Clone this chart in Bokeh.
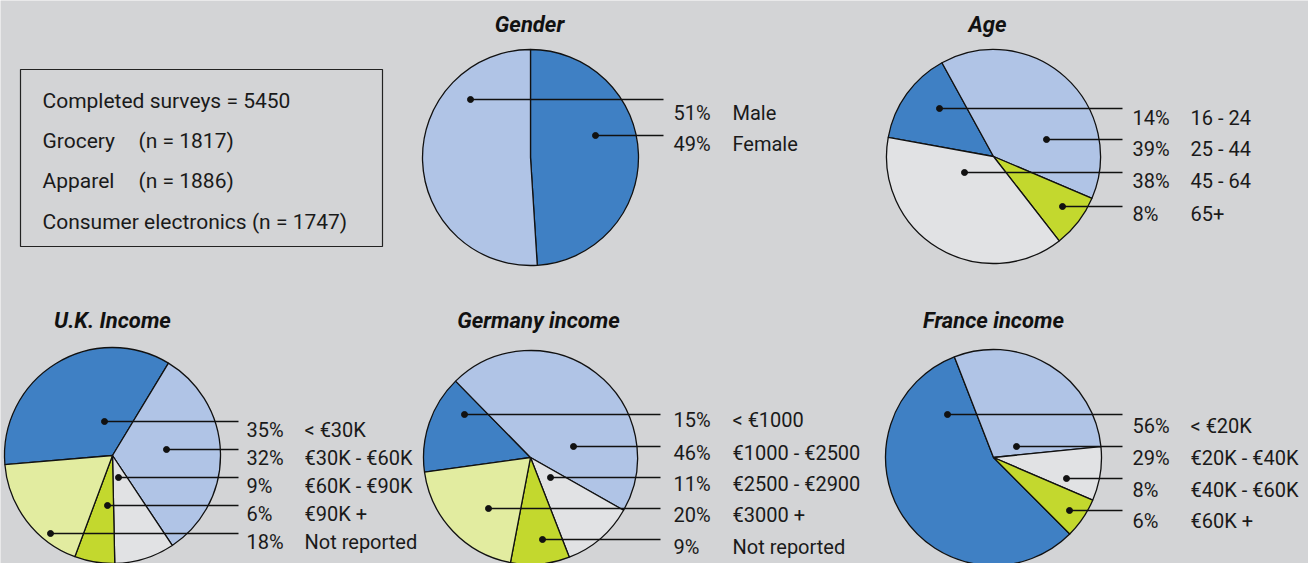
import math
from bokeh.plotting import figure
from bokeh.models import Range1d
from bokeh.embed import file_html
from bokeh.resources import INLINE
from bokeh.core.properties import value

# ---------------- data ----------------
summary_lines = ["Completed surveys = 5450", "Grocery", "Apparel", "Consumer electronics (n = 1747)"]
summary_counts = ["", "(n = 1817)", "(n = 1886)", ""]

gender_labels = ["Male", "Female"]
gender_values = [51, 49]

age_labels = ["16 - 24", "25 - 44", "45 - 64", "65+"]
age_values = [14, 39, 38, 8]

uk_labels = ["< €30K", "€30K - €60K", "€60K - €90K", "€90K +", "Not reported"]
uk_values = [35, 32, 9, 6, 18]

de_labels = ["< €1000", "€1000 - €2500", "€2500 - €2900", "€3000 +", "Not reported"]
de_values = [15, 46, 11, 20, 9]

fr_labels = ["< €20K", "€20K - €40K", "€40K - €60K", "€60K +"]
fr_values = [56, 29, 8, 6]

# ---------------- style ----------------
BG = "#d3d4d6"
DARK = "#3f80c4"
LIGHT = "#b0c4e6"
GREY = "#e1e2e4"
LIME = "#c3d82e"
PALE = "#e2eca0"
FONT = "Roboto"

W, H = 1308, 563

# layout for each pie (reference pixel coordinates, y downwards)
pies = [
    dict(title="Gender", labels=gender_labels, values=gender_values,
         colors=[LIGHT, DARK], order=[1, 0], start=0.0,
         cx=530, cy=157, r=108, tx=529, ty=24,
         line_y=[99, 135], dot_x=[470, 595], text_y=[112, 143],
         end_x=663, pct_x=673, lab_x=732),
    dict(title="Age", labels=age_labels, values=age_values,
         colors=[DARK, LIGHT, GREY, LIME], order=[0, 1, 3, 2], start=280.3,
         cx=993, cy=156, r=107, tx=987, ty=24,
         line_y=[108, 139, 172, 206], dot_x=[939, 1046, 964, 1062], text_y=[117, 148, 180, 213],
         end_x=1122, pct_x=1132, lab_x=1190),
    dict(title="U.K. Income", labels=uk_labels, values=uk_values,
         colors=[DARK, LIGHT, GREY, LIME, PALE], order=[0, 1, 2, 3, 4], start=265.2,
         cx=112, cy=455, r=108, tx=112, ty=320,
         line_y=[421, 449, 477, 505, 533], dot_x=[104, 166, 118, 107, 50],
         text_y=[429, 457, 485, 513, 541],
         end_x=238, pct_x=246, lab_x=304),
    dict(title="Germany income", labels=de_labels, values=de_values,
         colors=[DARK, LIGHT, GREY, PALE, LIME], order=[0, 1, 2, 4, 3], start=262.1,
         cx=530, cy=457, r=107, tx=538, ty=320,
         line_y=[414, 446, 477, 508, 539], dot_x=[464, 573, 550, 488, 542],
         text_y=[419, 452, 483, 514, 546],
         end_x=660, pct_x=673, lab_x=732),
    dict(title="France income", labels=fr_labels, values=fr_values,
         colors=[DARK, LIGHT, GREY, LIME], order=[0, 1, 2, 3], start=135.1,
         cx=993, cy=457, r=108, tx=993, ty=320,
         line_y=[414, 446, 478, 510], dot_x=[947, 1016, 1066, 1069],
         text_y=[425, 457, 489, 520],
         end_x=1122, pct_x=1132, lab_x=1190),
]


def Y(y):
    return H - y


p = figure(width=W, height=H, output_backend="svg", toolbar_location=None,
           x_range=Range1d(0, W), y_range=Range1d(0, H),
           min_border=0, min_border_left=0, min_border_right=0, min_border_top=0, min_border_bottom=0)
p.background_fill_color = BG
p.border_fill_color = BG
p.outline_line_color = None
p.xaxis.visible = False
p.yaxis.visible = False
p.xgrid.visible = False
p.ygrid.visible = False

# summary box
p.quad(left=20, right=382, top=Y(69), bottom=Y(246), fill_color=None, line_color="#222222", line_width=1.2)
box_y = [100, 140, 180, 221]
p.text(x=[42] * 4, y=[Y(b) for b in box_y], text=summary_lines,
       text_font=value(FONT), text_font_size="21px", text_color="#1a1a1a", text_baseline="middle")
p.text(x=[138] * 4, y=[Y(b) for b in box_y], text=summary_counts,
       text_font=value(FONT), text_font_size="21px", text_color="#1a1a1a", text_baseline="middle")

for pie in pies:
    vals = pie["values"]
    total = float(sum(vals))
    theta = pie["start"]
    starts, ends, cols = [], [], []
    for i in pie["order"]:
        span = vals[i] / total * 360.0
        t1, t2 = theta, theta + span
        # convert clockwise-from-top to anticlockwise-from-x
        starts.append(math.radians(90 - t2))
        ends.append(math.radians(90 - t1))
        cols.append(pie["colors"][i])
        theta = t2
    cx, cy, r = pie["cx"], Y(pie["cy"]), pie["r"]
    p.wedge(x=cx, y=cy, radius=r, start_angle=starts, end_angle=ends, direction="anticlock",
            fill_color=cols, line_color="#111111", line_width=1.3)
    # title
    p.text(x=[pie["tx"]], y=[Y(pie["ty"])], text=[pie["title"]], text_font=value(FONT),
           text_font_size="22px", text_font_style="bold italic", text_color="#111111",
           text_align="center", text_baseline="middle")
    n = len(vals)
    ly = [Y(v) for v in pie["line_y"]]
    p.segment(x0=pie["dot_x"], y0=ly, x1=[pie["end_x"]] * n, y1=ly, line_color="#111111", line_width=1.5)
    p.scatter(x=pie["dot_x"], y=ly, size=6, marker="circle", fill_color="#111111", line_color="#111111")
    ty = [Y(v) for v in pie["text_y"]]
    p.text(x=[pie["pct_x"]] * n, y=ty, text=["%d%%" % v for v in vals], text_font=value(FONT),
           text_font_size="20px", text_color="#1a1a1a", text_baseline="middle")
    p.text(x=[pie["lab_x"]] * n, y=ty, text=pie["labels"], text_font=value(FONT),
           text_font_size="20px", text_color="#1a1a1a", text_baseline="middle")

open("out.html", "w").write(file_html(p, INLINE))
